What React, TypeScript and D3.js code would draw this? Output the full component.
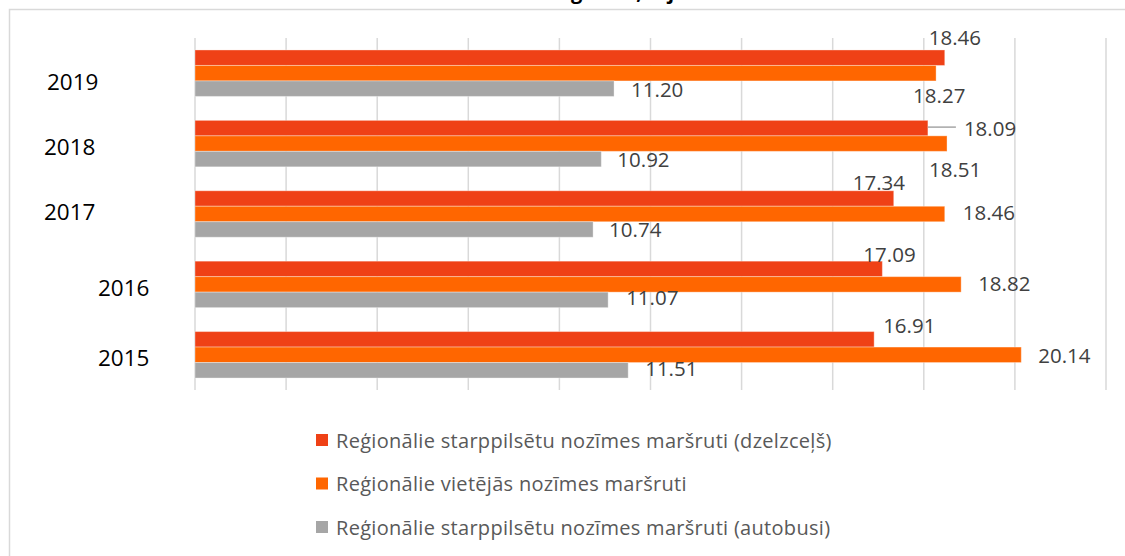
import React from "react";
import * as d3 from "d3";

const years = ["2019", "2018", "2017", "2016", "2015"];
const seriesNames = [
  "Reģionālie starppilsētu nozīmes maršruti (dzelzceļš)",
  "Reģionālie vietējās nozīmes maršruti",
  "Reģionālie starppilsētu nozīmes maršruti (autobusi)",
];
const railValues = [18.46, 18.09, 17.34, 17.09, 16.91];
const localValues = [18.27, 18.51, 18.46, 18.82, 20.14];
const busValues = [11.2, 10.92, 10.74, 11.07, 11.51];
const gridTicks = [2, 4, 6, 8, 10, 12, 14, 16, 18, 20, 22];
// title is cut by the top edge in the source, only descenders show
const titleHead = "Izmaksas uz kilometru re";
const titleTail = "ģionos, tajā skaitā";

const colors = ["#EF4116", "#FF6600", "#A6A6A6"];

// hand-moved labels in the original (dx, dy from bar end / bar middle)
const labelShift = [
  [[-16, -21], [36, 0], [-41, -17], [-19, -15], [9, -14]],
  [[-23, 22], [-18, 25], [18, -2], [17, -1], [17, 0]],
  [[17, 0], [16, 0], [16, 0], [18, -3], [17, -2]],
];
const yearShift = [[-148, 8], [-151, 3], [-151, -3], [-97, 3], [-97, 3]];

const W = 1125;
const H = 556;
const plot = { left: 195, right: 1106, top: 38, bottom: 390 };

export default function App() {
  const series = [railValues, localValues, busValues];

  const x = d3.scaleLinear().domain([2, 22]).range([plot.left, plot.right]);
  const y = d3
    .scaleBand()
    .domain(years)
    .range([plot.top, plot.bottom])
    .paddingInner(0.34)
    .paddingOuter(0.17);
  const sub = d3
    .scaleBand()
    .domain(d3.range(series.length).map(String))
    .range([0, y.bandwidth()]);

  const fmt = d3.format(".2f");
  const font = "'Open Sans', 'DejaVu Sans', sans-serif";

  return (
    <svg
      width={W}
      height={H}
      style={{ position: "absolute", left: 0, top: 0, background: "#fff" }}
      fontFamily={font}
    >
      {/* chart frame */}
      <rect x={9.5} y={9.5} width={W + 10} height={H + 10} fill="none" stroke="#d9d9d9" strokeWidth={1.5} />

      {/* title */}
      <text x={571} y={-1} textAnchor="end" fontSize={20} fontWeight="bold" fill="#000">
        {titleHead}
      </text>
      <text x={571} y={-1} textAnchor="start" fontSize={20} fontWeight="bold" fill="#000">
        {titleTail}
      </text>

      {/* gridlines */}
      {gridTicks.map((t) => (
        <line key={t} x1={x(t)} x2={x(t)} y1={plot.top} y2={plot.bottom} stroke="#d9d9d9" strokeWidth={1.5} />
      ))}

      {/* bars */}
      {series.map((vals, si) =>
        vals.map((v, i) => (
          <rect
            key={`${si}-${i}`}
            x={x(2)}
            y={(y(years[i]) as number) + (sub(String(si)) as number)}
            width={x(v) - x(2)}
            height={sub.bandwidth()}
            fill={colors[si]}
            stroke="#ffffff"
            strokeOpacity={0.35}
            strokeWidth={1}
          />
        ))
      )}

      {/* data labels */}
      {series.map((vals, si) =>
        vals.map((v, i) => {
          const cy = (y(years[i]) as number) + (sub(String(si)) as number) + sub.bandwidth() / 2;
          const [dx, dy] = labelShift[si][i];
          const lx = x(v) + dx;
          return (
            <g key={`l-${si}-${i}`}>
              {dx > 30 && (
                <line x1={x(v)} x2={lx - 8} y1={cy - 1} y2={cy - 1} stroke="#a6a6a6" strokeWidth={1.5} />
              )}
              <text x={lx} y={cy + dy} dominantBaseline="central" fontSize={20.5} fill="#404040">
                {fmt(v)}
              </text>
            </g>
          );
        })
      )}

      {/* year labels */}
      {years.map((yr, i) => (
        <text
          key={yr}
          x={plot.left + yearShift[i][0]}
          y={(y(yr) as number) + y.bandwidth() / 2 + yearShift[i][1]}
          dominantBaseline="central"
          fontSize={22.5}
          fill="#000"
        >
          {yr}
        </text>
      ))}

      {/* legend */}
      {seriesNames.map((name, i) => {
        const ly = 440 + i * 43.5;
        return (
          <g key={name}>
            <rect x={316} y={ly - 6} width={12} height={12} fill={colors[i]} />
            <text x={336} y={ly} dominantBaseline="central" fontSize={20} letterSpacing={0.3} fill="#595959">
              {name}
            </text>
          </g>
        );
      })}
    </svg>
  );
}
